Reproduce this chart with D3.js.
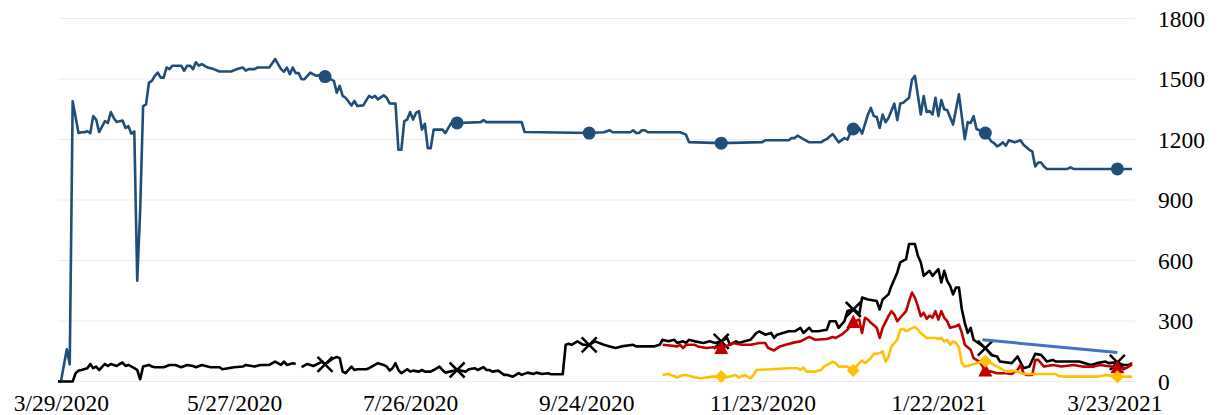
<!DOCTYPE html>
<html>
<head>
<meta charset="utf-8">
<script src="https://cdn.jsdelivr.net/npm/d3@7"></script>
<style>
  body { margin: 0; background: #fff; }
</style>
</head>
<body>
<div id="chart"></div>
<script>
// day offsets counted from 3/28/2020
var startDate = new Date(2020, 2, 28);
var lastDay = 367;

var yTicks = [0, 300, 600, 900, 1200, 1500, 1800];
var xTickDays = [1, 60, 120, 180, 240, 300, 360];
var markerDays = [91, 136, 181, 226, 271, 316, 361];

// [day, value]
var navySeries = [[0,0],[1,0],[3,160],[4,85],[5,1390],[7,1232],[8,1236],[9,1236],[10,1241],[11,1232],[12,1316],[13,1299],[14,1237],[16,1291],[17,1282],[18,1336],[19,1307],[20,1287],[22,1294],[23,1257],[24,1266],[25,1229],[26,1240],[27,500],[28,850],[29,1366],[30,1374],[31,1482],[32,1491],[33,1516],[34,1532],[35,1507],[36,1507],[37,1557],[38,1549],[39,1566],[42,1566],[43,1541],[44,1566],[45,1566],[46,1549],[47,1583],[48,1566],[49,1574],[51,1557],[53,1549],[55,1537],[59,1537],[61,1549],[63,1557],[64,1541],[65,1549],[67,1549],[68,1557],[72,1557],[74,1599],[75,1574],[76,1549],[77,1536],[78,1557],[79,1524],[80,1557],[81,1529],[82,1529],[83,1499],[84,1499],[86,1532],[88,1516],[89,1519],[91,1512],[94,1491],[95,1432],[96,1466],[97,1416],[98,1407],[100,1369],[101,1391],[102,1366],[104,1369],[106,1416],[107,1407],[108,1416],[109,1399],[111,1419],[112,1407],[113,1379],[115,1378],[116,1149],[117,1149],[118,1291],[119,1299],[120,1336],[121,1299],[122,1332],[123,1341],[124,1249],[125,1278],[126,1157],[127,1157],[128,1249],[131,1249],[132,1232],[134,1282],[136,1282],[144,1286],[145,1296],[146,1286],[158,1286],[159,1237],[181,1232],[186,1236],[188,1246],[189,1236],[195,1236],[196,1246],[197,1232],[198,1232],[199,1246],[200,1246],[201,1236],[212,1236],[214,1224],[215,1187],[226,1182],[240,1187],[241,1196],[249,1196],[250,1207],[251,1207],[252,1219],[254,1202],[256,1186],[260,1186],[261,1196],[262,1202],[264,1227],[266,1186],[268,1207],[269,1199],[270,1232],[271,1252],[273,1257],[274,1229],[276,1324],[277,1357],[278,1316],[279,1312],[280,1257],[281,1324],[282,1286],[283,1307],[285,1378],[286,1296],[287,1378],[288,1382],[290,1407],[291,1496],[292,1516],[294,1324],[295,1416],[296,1336],[297,1341],[298,1324],[299,1407],[300,1316],[301,1396],[302,1349],[303,1346],[305,1274],[307,1424],[309,1202],[310,1286],[311,1282],[312,1316],[313,1252],[316,1232],[318,1191],[319,1182],[320,1166],[321,1174],[322,1186],[323,1169],[324,1196],[326,1186],[328,1196],[329,1174],[331,1149],[332,1141],[333,1066],[334,1086],[335,1086],[336,1066],[337,1054],[344,1054],[345,1062],[346,1054],[361,1054],[366,1054]];

var blackSeries = [[0,0],[5,0],[6,41],[7,54],[8,57],[10,66],[11,87],[12,66],[13,74],[14,57],[16,87],[17,77],[18,87],[20,77],[21,87],[22,94],[23,77],[24,82],[26,66],[27,57],[28,11],[29,74],[31,82],[32,74],[33,71],[36,71],[38,82],[40,82],[42,71],[44,82],[46,77],[47,71],[49,82],[51,74],[52,71],[55,71],[56,61],[58,66],[60,71],[63,74],[64,82],[67,74],[69,82],[72,82],[74,99],[76,82],[77,99],[78,82],[80,91],[81,87],[82,null],[83,71],[85,87],[87,77],[89,91],[90,99],[91,85],[93,107],[94,116],[95,121],[96,116],[97,49],[98,41],[100,74],[101,57],[102,61],[105,61],[106,66],[109,91],[111,82],[112,74],[113,54],[114,66],[115,91],[116,57],[117,41],[119,61],[120,49],[121,54],[123,49],[124,57],[125,49],[127,49],[128,57],[130,74],[131,57],[132,44],[136,57],[139,49],[140,61],[142,66],[143,57],[145,71],[146,57],[147,57],[148,49],[150,54],[152,33],[153,33],[155,24],[157,41],[158,33],[160,44],[162,37],[163,44],[165,37],[167,41],[168,36],[172,36],[173,182],[174,187],[175,182],[177,199],[179,182],[181,182],[183,199],[186,182],[188,174],[190,166],[192,174],[196,182],[197,174],[203,174],[205,182],[206,207],[208,199],[210,207],[211,191],[213,199],[214,191],[215,207],[217,199],[220,191],[222,199],[224,191],[226,199],[228,216],[229,182],[231,199],[232,191],[234,199],[236,207],[238,241],[239,249],[241,232],[243,241],[244,216],[245,232],[247,241],[249,249],[251,249],[253,266],[254,241],[256,266],[257,249],[259,249],[262,257],[263,299],[265,299],[266,266],[268,299],[269,349],[271,357],[272,349],[273,330],[274,416],[276,407],[279,399],[280,357],[281,407],[283,432],[284,474],[286,541],[287,591],[289,607],[290,682],[292,682],[293,624],[294,591],[295,524],[297,549],[298,524],[300,557],[301,491],[302,549],[303,499],[304,474],[305,432],[306,466],[307,466],[308,357],[309,291],[310,241],[311,266],[312,207],[316,166],[318,132],[320,124],[321,99],[325,91],[327,124],[329,66],[331,74],[333,137],[335,132],[337,99],[339,107],[340,99],[348,99],[352,82],[354,91],[357,99],[358,91],[361,95],[363,82],[365,82],[366,91]];

var redSeries = [[206,182],[211,174],[212,182],[213,166],[214,182],[217,182],[218,174],[221,166],[224,171],[226,166],[228,177],[230,191],[233,182],[236,182],[239,191],[241,191],[242,166],[244,154],[246,174],[248,182],[251,194],[253,199],[256,221],[258,207],[262,211],[264,221],[265,216],[267,232],[269,257],[271,295],[273,307],[274,240],[275,316],[276,307],[277,291],[279,266],[280,216],[281,266],[283,324],[284,349],[285,332],[286,299],[287,316],[289,349],[290,399],[291,441],[292,416],[293,374],[294,324],[295,341],[296,311],[297,327],[298,316],[299,349],[300,307],[301,349],[302,316],[303,299],[304,266],[306,274],[307,282],[308,241],[309,182],[311,157],[312,116],[314,99],[316,55],[318,49],[320,41],[323,41],[325,37],[327,57],[328,82],[329,41],[330,32],[332,32],[333,107],[334,107],[336,74],[339,82],[342,74],[346,82],[349,74],[353,74],[355,82],[361,71],[364,66],[366,85]];

var goldSeries = [[206,32],[208,37],[211,20],[213,32],[214,32],[217,21],[219,16],[223,24],[226,25],[228,21],[231,32],[232,20],[234,32],[236,16],[237,32],[238,57],[249,66],[252,66],[253,57],[254,70],[255,49],[258,49],[260,57],[261,74],[264,99],[265,91],[266,74],[269,74],[271,55],[273,91],[274,104],[275,91],[277,116],[278,137],[280,140],[281,149],[282,99],[283,124],[284,174],[286,207],[287,257],[288,261],[289,249],[290,257],[292,271],[293,257],[294,241],[296,216],[299,216],[300,211],[301,216],[302,199],[303,207],[304,182],[305,199],[306,191],[307,170],[308,91],[309,74],[311,82],[313,91],[315,99],[316,100],[318,91],[320,74],[321,66],[323,49],[325,54],[327,49],[329,37],[340,37],[341,27],[343,24],[354,24],[357,32],[361,24],[366,24]];

var trendSeries = [[315,207],[361,144]];

var svgWidth = 1228;
var svgHeight = 415;

var svg = d3.select("#chart")
            .append("svg")
            .attr("width", svgWidth)
            .attr("height", svgHeight);

function dayToDate(d) {
    return d3.timeDay.offset(startDate, d);
}

var xTimeScale = d3.scaleTime()
                   .domain([startDate, dayToDate(lastDay)])
                   .range([58, 1135]);

var yLinearScale = d3.scaleLinear()
                     .domain([0, 1800])
                     .range([381.5, 18.5]);

// gridlines
svg.append("g")
   .selectAll("line")
   .data(yTicks)
   .enter()
   .append("line")
   .attr("x1", 58)
   .attr("x2", 1135)
   .attr("y1", d => yLinearScale(d))
   .attr("y2", d => yLinearScale(d))
   .attr("stroke", "#ececec")
   .attr("stroke-width", 1);

var bottomAxis = d3.axisBottom(xTimeScale)
                   .tickValues(xTickDays.map(dayToDate))
                   .tickFormat(d3.timeFormat("%-m/%-d/%Y"))
                   .tickSize(0)
                   .tickPadding(13);

var rightAxis = d3.axisRight(yLinearScale)
                  .tickValues(yTicks)
                  .tickFormat(d3.format("d"))
                  .tickSize(0)
                  .tickPadding(0);

var xAxisG = svg.append("g")
                .attr("transform", "translate(0, 381.5)")
                .call(bottomAxis);

var yAxisG = svg.append("g")
                .attr("transform", "translate(1158, 0)")
                .call(rightAxis);

[xAxisG, yAxisG].forEach(function(g) {
    g.select(".domain").remove();
    g.attr("font-family", null)
     .attr("font-size", null);
    g.selectAll("text")
     .style("font-family", "Liberation Serif")
     .style("font-size", "23.5px")
     .attr("fill", "#000");
});

var line = d3.line()
             .defined(d => d[1] !== null)
             .x(d => xTimeScale(dayToDate(d[0])))
             .y(d => yLinearScale(d[1]));

function drawLine(data, color, width) {
    svg.append("path")
       .datum(data)
       .attr("d", line)
       .attr("fill", "none")
       .attr("stroke", color)
       .attr("stroke-width", width)
       .attr("stroke-linejoin", "round");
}

function markerPoints(data) {
    return data.filter(d => markerDays.indexOf(d[0]) >= 0 && d[1] !== null);
}

function drawMarkers(data, pathStr, fill, stroke) {
    svg.append("g")
       .selectAll("path")
       .data(markerPoints(data))
       .enter()
       .append("path")
       .attr("transform", d => `translate(${xTimeScale(dayToDate(d[0]))}, ${yLinearScale(d[1])})`)
       .attr("d", pathStr)
       .attr("fill", fill)
       .attr("stroke", stroke)
       .attr("stroke-width", stroke === "none" ? 0 : 2.5);
}

var circlePath = d3.symbol().type(d3.symbolCircle).size(Math.PI * 6.5 * 6.5)();
var crossPath = "M-7.5,-7.5L7.5,7.5M-7.5,7.5L7.5,-7.5";
var trianglePath = "M0,-7.5L7,6L-7,6Z";
var diamondPath = "M0,-6.5L6.5,0L0,6.5L-6.5,0Z";

drawLine(navySeries, "#1f4e79", 2.6);
drawMarkers(navySeries, circlePath, "#1f4e79", "none");

drawLine(blackSeries, "#000000", 2.6);
drawMarkers(blackSeries, crossPath, "none", "#000000");

drawLine(redSeries, "#c00000", 2.6);
drawMarkers(redSeries, trianglePath, "#c00000", "none");

drawLine(goldSeries, "#ffc000", 2.6);
drawMarkers(goldSeries, diamondPath, "#ffc000", "none");

drawLine(trendSeries, "#4472c4", 3);
</script>
</body>
</html>
